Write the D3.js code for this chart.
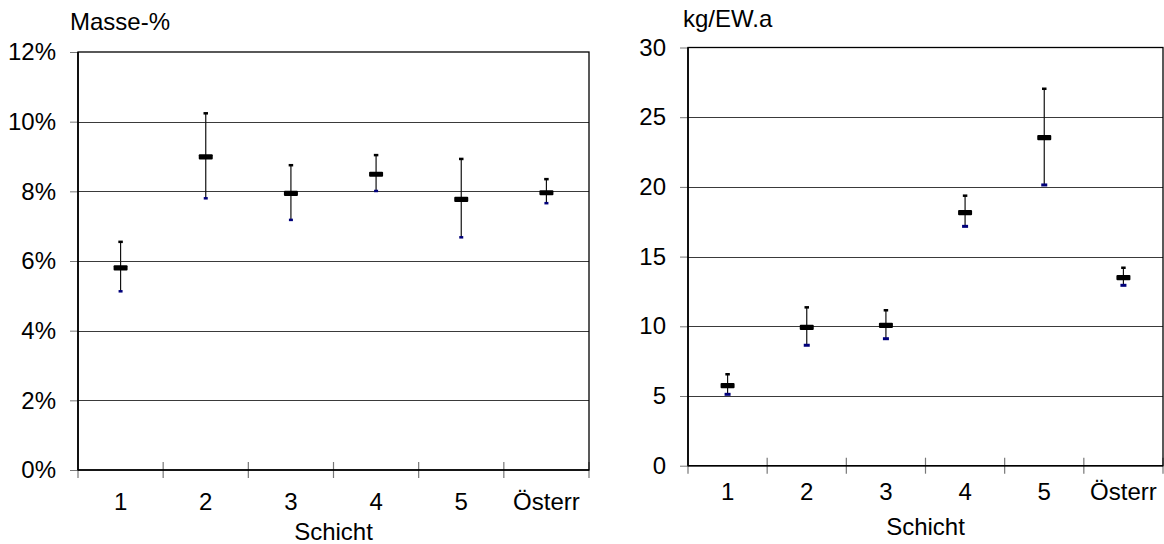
<!DOCTYPE html>
<html>
<head>
<meta charset="utf-8">
<script src="https://cdn.jsdelivr.net/npm/d3@7"></script>
<style>
  html, body { margin: 0; padding: 0; background: #fff; }
  svg { display: block; font-family: "Liberation Sans", Arial, sans-serif; }
</style>
</head>
<body>
<svg id="chart" width="1164" height="544"></svg>
<script>
// Categories (Schicht) shared by both panels
const categories = ["1", "2", "3", "4", "5", "Österr"];

// Left panel: Masse-% (mean, upper and lower bound)
const massMean = [5.80, 8.99, 7.94, 8.49, 7.77, 7.96];
const massHigh = [6.55, 10.24, 8.75, 9.04, 8.93, 8.35];
const massLow  = [5.13, 7.80, 7.18, 8.01, 6.68, 7.66];
const massTicks = [0, 2, 4, 6, 8, 10, 12];

// Right panel: kg/EW.a (mean, upper and lower bound)
const kgMean = [5.74, 9.93, 10.07, 18.15, 23.53, 13.49];
const kgHigh = [6.56, 11.36, 11.15, 19.37, 27.04, 14.20];
const kgLow  = [5.12, 8.64, 9.11, 17.17, 20.14, 12.94];
const kgTicks = [0, 5, 10, 15, 20, 25, 30];

const svg = d3.select("#chart");
const FONT = 24;

function panel(opts) {
  const { left, right, top, bottom, domainMax, ticks, fmt, unit, mean, high, low,
          lowW, lowH, highW, highH } = opts;
  const g = svg.append("g");
  const x = d3.scaleBand().domain(categories).range([left, right]).padding(0);
  const y = d3.scaleLinear().domain([0, domainMax]).range([bottom, top]);

  // horizontal gridlines
  g.append("g").selectAll("line").data(ticks.filter(t => t > 0 && t < domainMax)).join("line")
    .attr("x1", left).attr("x2", right)
    .attr("y1", d => Math.round(y(d)) + 0.5).attr("y2", d => Math.round(y(d)) + 0.5)
    .attr("stroke", "#3a3a3a").attr("stroke-width", 1);

  // y axis with outward ticks and labels
  const yAxis = d3.axisLeft(y).tickValues(ticks).tickSize(8).tickPadding(14).tickFormat(fmt);
  const ya = g.append("g").attr("transform", `translate(${left},0)`).call(yAxis);
  ya.select(".domain").remove();
  ya.selectAll(".tick line").attr("stroke", "#777");
  ya.selectAll(".tick text").attr("font-size", FONT).attr("fill", "#000")
    .attr("font-family", "Liberation Sans, Arial, sans-serif");

  // x axis labels centred in the bands
  const xAxis = d3.axisBottom(x).tickSize(0).tickPadding(opts.xPad);
  const xa = g.append("g").attr("transform", `translate(0,${bottom})`).call(xAxis);
  xa.select(".domain").remove();
  xa.selectAll(".tick text").attr("font-size", FONT).attr("fill", "#000")
    .attr("font-family", "Liberation Sans, Arial, sans-serif");

  // crossing tick marks on band boundaries
  const bounds = categories.map(c => x(c)).concat([x.range()[1]]);
  g.append("g").selectAll("line").data(bounds).join("line")
    .attr("x1", d => d).attr("x2", d => d)
    .attr("y1", (d, i) => i === 0 ? bottom : bottom - 8).attr("y2", bottom + 8)
    .attr("stroke", "#777").attr("stroke-width", 1.2);

  // plot frame
  g.append("rect").attr("x", left).attr("y", top)
    .attr("width", right - left).attr("height", bottom - top)
    .attr("fill", "none").attr("stroke", "#000").attr("stroke-width", 1.3);
  g.append("line").attr("x1", left).attr("x2", right).attr("y1", bottom).attr("y2", bottom)
    .attr("stroke", "#000").attr("stroke-width", 1.6);
  g.append("line").attr("x1", left).attr("x2", left).attr("y1", top).attr("y2", bottom)
    .attr("stroke", "#000").attr("stroke-width", 1.6);

  // range whiskers
  const cx = c => x(c) + x.bandwidth() / 2;
  g.append("g").selectAll("line").data(categories).join("line")
    .attr("x1", cx).attr("x2", cx)
    .attr("y1", (c, i) => y(high[i])).attr("y2", (c, i) => y(low[i]))
    .attr("stroke", "#111").attr("stroke-width", 1.2);

  // upper bound markers
  g.append("g").selectAll("rect").data(categories).join("rect")
    .attr("x", c => cx(c) - highW / 2).attr("y", (c, i) => y(high[i]) - highH / 2)
    .attr("width", highW).attr("height", highH).attr("fill", "#000");

  // lower bound markers
  g.append("g").selectAll("rect").data(categories).join("rect")
    .attr("x", c => cx(c) - lowW / 2).attr("y", (c, i) => y(low[i]) - lowH / 2)
    .attr("width", lowW).attr("height", lowH).attr("fill", "#00007a");

  // mean markers
  g.append("g").selectAll("rect").data(categories).join("rect")
    .attr("x", c => cx(c) - 7).attr("y", (c, i) => y(mean[i]) - 2.6)
    .attr("width", 14).attr("height", 5.2).attr("rx", 1).attr("fill", "#000");

  // unit label and axis title
  g.append("text").attr("x", opts.unitX).attr("y", opts.unitY)
    .attr("font-size", FONT).text(unit);
  g.append("text").attr("x", (left + right) / 2).attr("y", bottom + opts.titleDy)
    .attr("text-anchor", "middle").attr("font-size", FONT).text("Schicht");
}

panel({
  left: 78, right: 589, top: 52, bottom: 470, domainMax: 12,
  ticks: massTicks, fmt: d => d + "%", unit: "Masse-%",
  unitX: 70, unitY: 30, xPad: 23, titleDy: 70,
  mean: massMean, high: massHigh, low: massLow,
  lowW: 4, lowH: 2.5, highW: 4.5, highH: 2.5
});

panel({
  left: 688, right: 1163, top: 47.5, bottom: 465.7, domainMax: 30,
  ticks: kgTicks, fmt: d => d, unit: "kg/EW.a",
  unitX: 683, unitY: 27, xPad: 17, titleDy: 69,
  mean: kgMean, high: kgHigh, low: kgLow,
  lowW: 6, lowH: 3, highW: 4.5, highH: 2.5
});
</script>
</body>
</html>
